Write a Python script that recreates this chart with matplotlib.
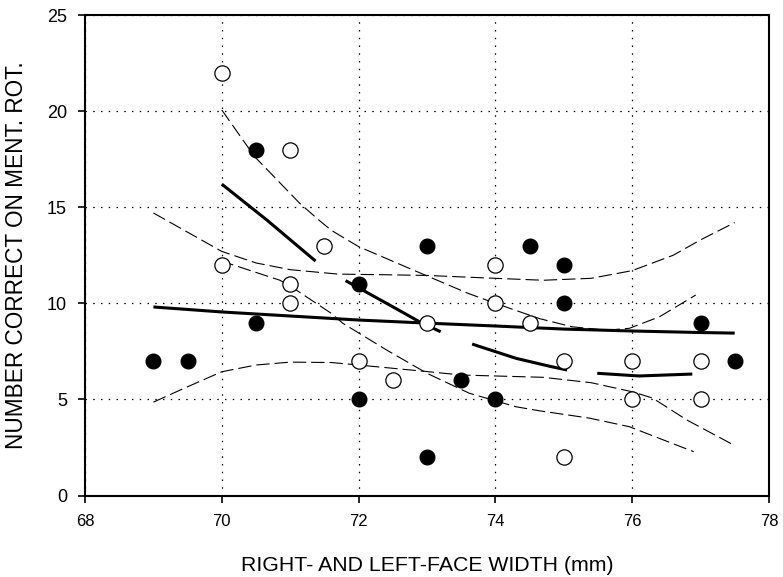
import numpy as np
import matplotlib
matplotlib.use("Agg")
import matplotlib.pyplot as plt

plt.rcParams['font.family'] = ['Liberation Sans', 'DejaVu Sans']

# filled circles
solid_x = [69, 69.5, 70.5, 70.5, 72, 72, 73, 73, 73.5, 74, 74.5, 75, 75, 77, 77.5]
solid_y = [7, 7, 18, 9, 11, 5, 13, 2, 6, 5, 13, 12, 10, 9, 7]

# open circles
open_x = [70, 70, 71, 71, 71, 71.5, 72, 72.5, 73, 74, 74, 74.5, 75, 75, 76, 76, 77, 77]
open_y = [22, 12, 18, 11, 10, 13, 7, 6, 9, 12, 10, 9, 7, 2, 7, 5, 7, 5]

# fit over all points, with its band
all_x = [69, 70, 71, 72, 73, 74, 75, 76, 77, 77.5]
all_fit = [9.81, 9.55, 9.34, 9.13, 8.97, 8.82, 8.66, 8.56, 8.48, 8.45]
all_up_x = [69, 69.5, 70, 70.5, 71, 71.7, 72.5, 73, 74, 74.7, 75.4, 76, 76.6, 77, 77.5]
all_up_y = [14.7, 13.7, 12.7, 12.1, 11.75, 11.52, 11.48, 11.45, 11.3, 11.2, 11.3, 11.7, 12.5, 13.3, 14.2]
all_lo_x = [69, 69.5, 70, 70.5, 71, 71.6, 72, 73, 73.5, 74.7, 75.4, 76, 76.3, 76.8, 77.5]
all_lo_y = [4.86, 5.66, 6.44, 6.79, 6.94, 6.92, 6.79, 6.45, 6.27, 6.15, 5.87, 5.4, 5.07, 3.93, 2.6]

# curved fit (drawn broken), with its band
sub_x = [70, 70.66, 71.37, np.nan, 71.81, 72.5, 72.89, 73.2, np.nan,
         73.66, 74.3, 74.8, 75.05, np.nan, 75.49, 76.1, 76.88]
sub_y = [16.2, 14.33, 12.2, np.nan, 11.18, 9.82, 9.04, 8.52, np.nan,
         7.88, 7.14, 6.72, 6.53, np.nan, 6.36, 6.22, 6.32]
sub_up_x = [70, 70.48, 71.14, 71.43, 71.6, 72, 72.8, 73.6, 74, 74.65, 75.12, 75.62, 75.96, 76.4, 76.93]
sub_up_y = [20.06, 17.63, 15.2, 14.3, 13.8, 12.95, 11.73, 10.52, 10.0, 9.2, 8.78, 8.6, 8.7, 9.3, 10.43]
sub_lo_x = [70, 70.12, 70.85, 71.0, 71.6, 71.77, 72.41, 73, 73.62, 74.3, 74.64, 75.37, 75.96, 76.9]
sub_lo_y = [12.34, 12.05, 11.2, 10.9, 9.48, 8.96, 7.57, 6.36, 5.32, 4.62, 4.41, 4.03, 3.58, 2.28]

fig = plt.figure(figsize=(7.83, 5.77), dpi=100)
ax = fig.add_axes([0.1086, 0.1412, 0.8734, 0.8328])

band = dict(color='black', lw=0.8, linestyle=(0, (12, 4.5)), zorder=2)
ax.plot(all_up_x, all_up_y, **band)
ax.plot(all_lo_x, all_lo_y, **band)
ax.plot(sub_up_x, sub_up_y, **band)
ax.plot(sub_lo_x, sub_lo_y, **band)

ax.plot(all_x, all_fit, color='black', lw=2.2, solid_capstyle='butt', zorder=3)
ax.plot(sub_x, sub_y, color='black', lw=2.2, solid_capstyle='butt', zorder=3)

ax.plot(open_x, open_y, 'o', ms=11, mfc='white', mec='black', mew=0.9, zorder=4)
ax.plot(solid_x, solid_y, 'o', ms=10.5, mfc='black', mec='black', zorder=4)

ax.set_xlim(68, 78)
ax.set_ylim(0, 25)
ax.set_xticks([68, 70, 72, 74, 76, 78])
ax.set_yticks([0, 5, 10, 15, 20, 25])
ax.grid(True, color='black', lw=0.9, linestyle=(0, (1.2, 5)))
ax.set_axisbelow(True)

for s in ax.spines.values():
    s.set_linewidth(1.5)
ax.tick_params(direction='out', length=5, width=1.2)
ax.tick_params(axis='x', pad=8, labelsize=12)
ax.tick_params(axis='y', pad=8, labelsize=13)

ax.set_xlabel('RIGHT- AND LEFT-FACE WIDTH (mm)', fontsize=15.3)
ax.set_ylabel('NUMBER CORRECT ON MENT. ROT.', fontsize=16.3)
ax.xaxis.set_label_coords(0.5, -0.145)
ax.xaxis.label.set_va('center')
ax.yaxis.set_label_coords(-0.1, 0.5)
ax.yaxis.label.set_va('center')

fig.savefig('out.png', dpi=100)
